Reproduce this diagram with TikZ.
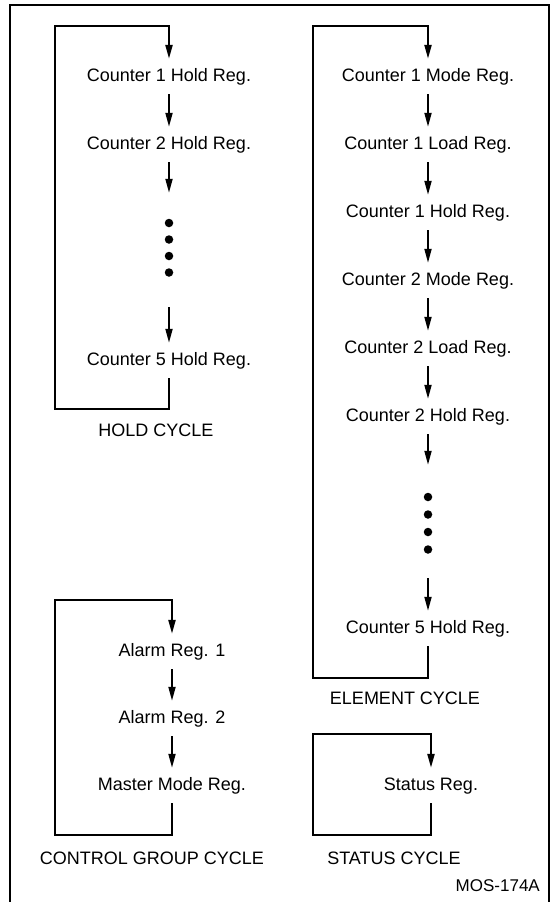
\documentclass[tikz,border=0pt]{standalone}
\usepackage{fontspec}
\setmainfont{Liberation Sans}
\usetikzlibrary{arrows.meta}
\tikzset{
  reg/.style={anchor=base, inner sep=0pt, text height=22pt, text depth=13pt,
              font=\fontsize{18}{20}\selectfont},
  lab/.style={anchor=center, inner sep=0pt, font=\fontsize{18}{20}\selectfont},
  gap/.style={inner sep=0pt, minimum width=1pt, minimum height=#1},
  dotn/.style={circle, fill=black, inner sep=0pt, minimum size=8.5pt},
  arr/.style={line width=1.9pt, -{Triangle[length=14pt,width=7pt]}},
  loopl/.style={line width=2.2pt, line join=miter, -{Triangle[length=14pt,width=7pt]}},
  frame/.style={line width=1.4pt}
}
\begin{document}
\begin{tikzpicture}[x=1pt,y=-1pt]
\useasboundingbox (0,0) rectangle (553,902);
% frame
\coordinate (fbl) at (10,902);
\coordinate (ftl) at (10,5);
\coordinate (ftr) at (549,5);
\coordinate (fbr) at (549,902);
\draw[frame] (fbl) -- (ftl) -- (ftr) -- (fbr);

% ---------- HOLD CYCLE ----------
\node[reg] (h1) at (169,81) {Counter 1 Hold Reg.};
\node[reg] (h2) at (169,149) {Counter 2 Hold Reg.};
\node[gap=114pt] (ga) at (169,250) {};
\node[dotn] (ga1) at (169,223) {};
\node[dotn] (ga2) at (169,239.5) {};
\node[dotn] (ga3) at (169,256) {};
\node[dotn] (ga4) at (169,272.5) {};
\node[reg] (h5) at (169,365) {Counter 5 Hold Reg.};
\draw[arr] (h1.south) -- (h2.north);
\draw[arr] (h2.south) -- (ga.north);
\draw[arr] (ga.south) -- (h5.north);
\coordinate (hbl) at (55,409);
\coordinate (htl) at (55,26);
\draw[loopl] (h5.south) |- (hbl) -- (htl) -| (h1.north);
\node[lab] (hl) at (156,430) {HOLD CYCLE};

% ---------- ELEMENT CYCLE ----------
\node[reg] (m1) at (428,81) {Counter 1 Mode Reg.};
\node[reg] (l1) at (428,149) {Counter 1 Load Reg.};
\node[reg] (k1) at (428,217) {Counter 1 Hold Reg.};
\node[reg] (m2) at (428,285) {Counter 2 Mode Reg.};
\node[reg] (l2) at (428,353) {Counter 2 Load Reg.};
\node[reg] (k2) at (428,421) {Counter 2 Hold Reg.};
\node[gap=113pt] (gb) at (428,521.5) {};
\node[dotn] (gb1) at (428,497) {};
\node[dotn] (gb2) at (428,514.5) {};
\node[dotn] (gb3) at (428,532) {};
\node[dotn] (gb4) at (428,549.5) {};
\node[reg] (k5) at (428,633) {Counter 5 Hold Reg.};
\draw[arr] (m1.south) -- (l1.north);
\draw[arr] (l1.south) -- (k1.north);
\draw[arr] (k1.south) -- (m2.north);
\draw[arr] (m2.south) -- (l2.north);
\draw[arr] (l2.south) -- (k2.north);
\draw[arr] (k2.south) -- (gb.north);
\draw[arr] (gb.south) -- (k5.north);
\coordinate (ebl) at (313,678);
\coordinate (etl) at (313,26);
\draw[loopl] (k5.south) |- (ebl) -- (etl) -| (m1.north);
\node[lab] (el) at (405,698) {ELEMENT CYCLE};

% ---------- CONTROL GROUP CYCLE ----------
\node[reg] (a1) at (172,656) {Alarm Reg. 1};
\node[reg] (a2) at (172,723) {Alarm Reg. 2};
\node[reg] (mm) at (172,790) {Master Mode Reg.};
\draw[arr] (a1.south) -- (a2.north);
\draw[arr] (a2.south) -- (mm.north);
\coordinate (cbl) at (55,835);
\coordinate (ctl) at (55,600);
\draw[loopl] (mm.south) |- (cbl) -- (ctl) -| (a1.north);
\node[lab] (cl) at (152,858) {CONTROL GROUP CYCLE};

% ---------- STATUS CYCLE ----------
\node[reg] (s1) at (431,790) {Status Reg.};
\coordinate (sbl) at (313,835);
\coordinate (stl) at (313,734);
\draw[loopl] (s1.south) |- (sbl) -- (stl) -| (s1.north);
\node[lab] (sl) at (394,858) {STATUS CYCLE};

% ---------- figure id ----------
\node[lab, anchor=east, font=\fontsize{17}{19}\selectfont] (mos) at (540,886) {MOS-174A};
\end{tikzpicture}
\end{document}
